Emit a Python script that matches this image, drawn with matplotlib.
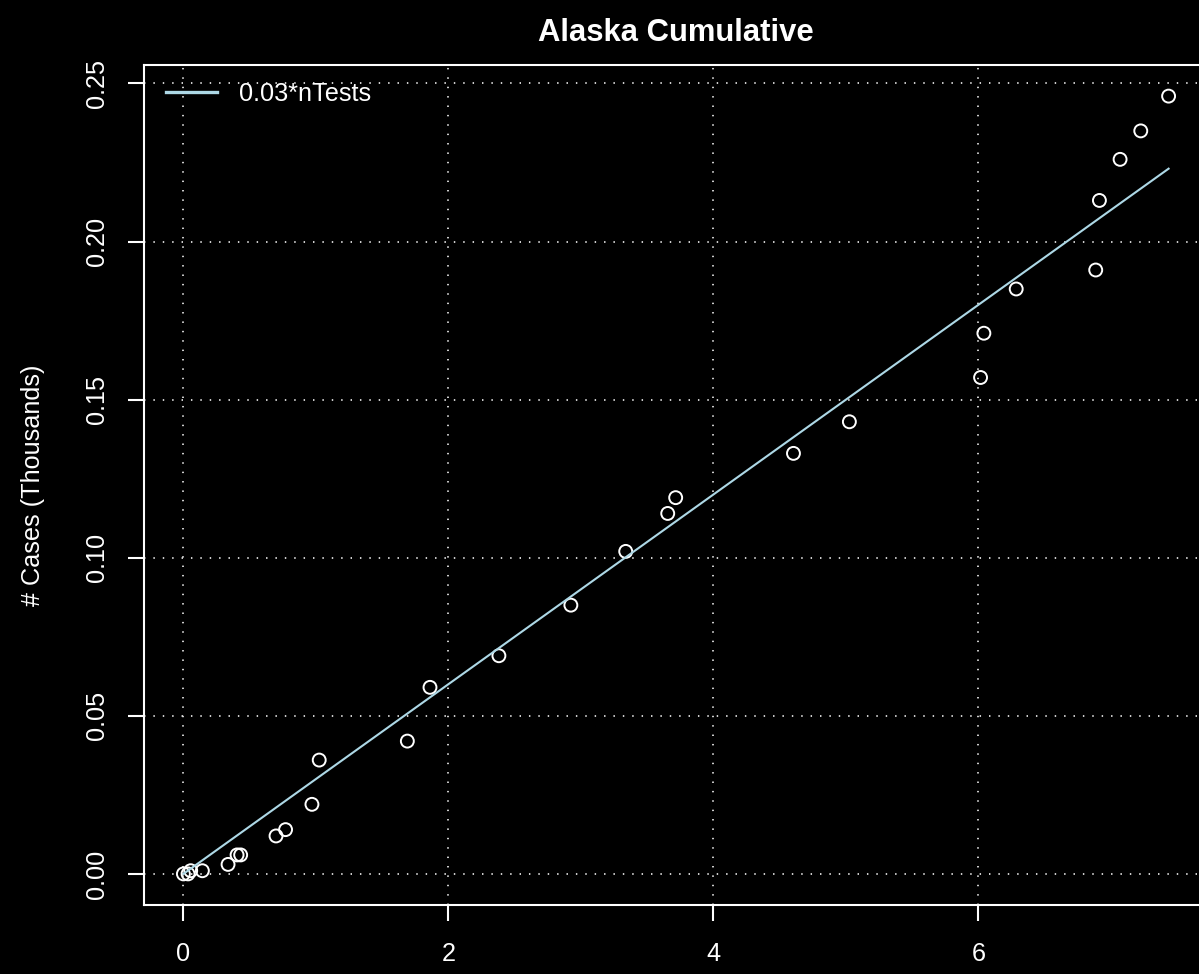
import numpy as np
import matplotlib
matplotlib.use("Agg")
import matplotlib.pyplot as plt

# cumulative tests (thousands) and cases (thousands)
n_tests = [0.0, 0.035, 0.055, 0.143, 0.337, 0.405, 0.432, 0.699, 0.771, 0.970,
           1.025, 1.690, 1.861, 2.381, 2.924, 3.338, 3.655, 3.715, 4.604, 5.026,
           6.016, 6.041, 6.285, 6.885, 6.913, 7.069, 7.225, 7.435]
cases = [0.0, 0.0, 0.001, 0.001, 0.003, 0.006, 0.006, 0.012, 0.014, 0.022,
         0.036, 0.042, 0.059, 0.069, 0.085, 0.102, 0.114, 0.119, 0.133, 0.143,
         0.157, 0.171, 0.185, 0.191, 0.213, 0.226, 0.235, 0.246]
rate = 0.03
x_ticks = [0, 2, 4, 6]
y_ticks = [0.00, 0.05, 0.10, 0.15, 0.20, 0.25]

TITLE = "Alaska Cumulative"
YLABEL = "# Cases (Thousands)"
LEGEND_LABEL = "0.03*nTests"

W, H = 1199, 974
FG = "white"
LINE_COL = "#ADD8E6"

plt.rcParams["font.family"] = ["Liberation Sans", "DejaVu Sans"]

fig = plt.figure(figsize=(W / 100, H / 100), dpi=100, facecolor="black")

# plot region in pixels (right edge runs off the image like the original)
left, right, top, bottom = 144, 1208, 65, 905
ax = fig.add_axes([left / W, 1 - bottom / H, (right - left) / W, (bottom - top) / H])
ax.set_facecolor("black")

x = np.array(n_tests)
y = np.array(cases)

# R-style 4% padding
xpad = 0.04 * (x.max() - x.min())
ypad = 0.04 * (y.max() - y.min())
ax.set_xlim(x.min() - xpad, x.max() + xpad)
ax.set_ylim(y.min() - ypad, y.max() + ypad)

ax.set_xticks(x_ticks)
ax.set_xticklabels([str(t) for t in x_ticks])
ax.set_yticks(y_ticks)
ax.set_yticklabels([f"{t:.2f}" for t in y_ticks], rotation=90, va="center")

ax.grid(True, color="#E0E0E0", linestyle=(0, (0.8, 4.4)), linewidth=1.3)
ax.set_axisbelow(True)

ax.scatter(x, y, s=9.3 ** 2, facecolors="none", edgecolors=FG, linewidths=1.4, zorder=3)

xs = np.sort(x)
ax.plot(xs, rate * xs, color=LINE_COL, linewidth=1.5, zorder=4, label=LEGEND_LABEL)

for sp in ax.spines.values():
    sp.set_color(FG)
    sp.set_linewidth(1.5)

ax.tick_params(colors=FG, labelcolor=FG, labelsize=18.2, length=11.5, width=1.5)
ax.tick_params(axis="x", pad=15)
ax.tick_params(axis="y", pad=14)

leg = ax.legend(loc="upper left", bbox_to_anchor=(22 / (right - left), 1 - 17 / (bottom - top)),
                frameon=False, fontsize=18.2, handlelength=2.0, handletextpad=0.9,
                borderpad=0, borderaxespad=0)
for t in leg.get_texts():
    t.set_color(FG)
for h in leg.get_lines():
    h.set_linewidth(2.4)

cx = (left + right) / 2 / W
fig.text(cx, 1 - 33 / H, TITLE, color=FG, fontsize=22.3, fontweight="bold",
         ha="center", va="center")
fig.text(33 / W, 1 - (top + bottom) / 2 / H, YLABEL, color=FG, fontsize=18.2,
         rotation=90, ha="center", va="center")

fig.savefig("out.png", dpi=100, facecolor="black")
